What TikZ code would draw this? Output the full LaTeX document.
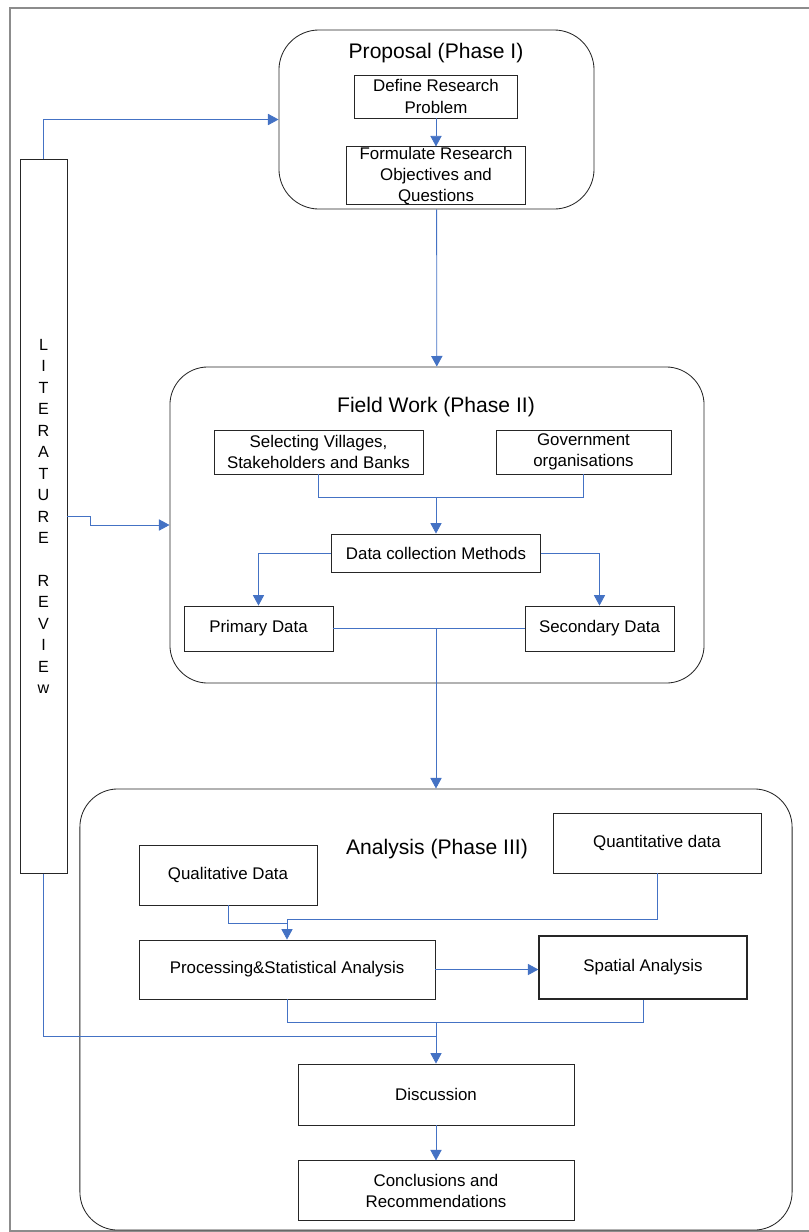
\documentclass[tikz,border=0pt]{standalone}
\usepackage{fontspec}
\setmainfont{Liberation Sans}
\usepackage{xcolor}
\usepackage{tikz}
\usetikzlibrary{arrows.meta, positioning}
\definecolor{linkblue}{HTML}{4472C4}

\begin{document}
\begin{tikzpicture}[x=0.025cm, y=-0.025cm, box/.style={rectangle, draw=black!85, line width=0.6pt, inner sep=0pt, align=center, font=\fontsize{12}{15}\selectfont}, phase/.style={rectangle, draw=black!85, line width=0.6pt, rounded corners=0.95cm, inner sep=0pt}, title/.style={font=\fontsize{15}{17}\selectfont}, link/.style={draw=linkblue, line width=0.6pt}, arrow/.style={link, -{Triangle[length=7.5pt, width=8pt]}}]
\useasboundingbox (0,0) rectangle (809,1232);
\draw[black!45, line width=1pt] (10,1232) -- (10,8) -- (809,8); \draw[black!45, line width=1pt] (10,1231) -- (809,1231);
% phases
\node[phase, minimum width=7.875cm, minimum height=4.475cm, rounded corners=1cm] (ph1) at (436.5,119.5) {};
\node[phase, minimum width=13.35cm, minimum height=7.9cm] (ph2) at (437,525) {};
\node[phase, minimum width=17.8cm, minimum height=11.025cm] (ph3) at (436,1009.5) {};
\node[title] (t1) at (436,53) {Proposal (Phase I)};
\node[title] (t2) at (436,407) {Field Work (Phase II)};
\node[title] (t3) at (437,849) {Analysis (Phase III)};
% literature review
\node[box, minimum width=1.175cm, minimum height=17.825cm, font=\fontsize{11.5}{15.3}\selectfont] (lit) at (43.5,516.5) {L\\I\\T\\E\\R\\A\\T\\U\\R\\E\\[15pt]R\\E\\V\\I\\E\\w};
% phase I
\node[box, minimum width=4.075cm, minimum height=1.075cm] (def) at (436,96.5) {Define Research\\Problem};
\node[box, minimum width=4.475cm, minimum height=1.375cm, below=0.7cm of def] (form) {Formulate Research\\Objectives and\\Questions};
% phase II
\node[box, minimum width=5.225cm, minimum height=1.1cm] (sel) at (318.5,452) {Selecting Villages,\\Stakeholders and Banks};
\node[box, minimum width=4.375cm, minimum height=1.1cm] (gov) at (583.5,452) {Government\\organisations};
\node[box, minimum width=5.225cm, minimum height=0.95cm] (dcm) at (436,553) {Data collection Methods};
\node[box, minimum width=3.725cm, minimum height=1.125cm] (prim) at (258.5,628.5) {Primary Data};
\node[box, minimum width=3.725cm, minimum height=1.125cm] (sec) at (599.5,628.5) {Secondary Data};
% phase III
\node[box, minimum width=4.45cm, minimum height=1.5cm] (qual) at (228,875) {Qualitative Data};
\node[box, minimum width=5.2cm, minimum height=1.5cm] (quant) at (657,843) {Quantitative data};
\node[box, minimum width=7.4cm, minimum height=1.475cm] (proc) at (287,969.5) {Processing\&Statistical Analysis};
\node[box, minimum width=5.2cm, minimum height=1.575cm, line width=0.9pt] (spat) at (643,967.5) {Spatial Analysis};
\node[box, minimum width=6.9cm, minimum height=1.525cm] (disc) at (436,1094.5) {Discussion};
\node[box, minimum width=6.9cm, minimum height=1.5cm, below=0.875cm of disc] (concl) {Conclusions and\\Recommendations};
% connectors
\draw[arrow] (lit.north) |- (ph1.west);
\draw[arrow] (lit.east) -- ++(23,0) |- (ph2.west);
\draw[link] (lit.south) |- ([yshift=19.2pt]disc.north);
\draw[arrow] (def) -- (form); \draw[arrow] (ph1) -- (ph2);
\draw[link] (sel.south) |- ([yshift=25.6pt]dcm.north) -| (gov.south);
\draw[arrow] ([yshift=25.6pt]dcm.north) -- (dcm.north);
\draw[arrow] (dcm.west) -| (prim.north); \draw[arrow] (dcm.east) -| (sec.north);
\draw[link] (prim.east) -- (sec.west);
\draw[arrow] (prim.east -| ph3.north) -- (ph3.north);
\draw[link] (qual.south) |- ([yshift=11.4pt]proc.north);
\draw[arrow] (quant.south) |- ([yshift=14.2pt]proc.north) -- (proc.north);
\draw[arrow] (proc.east) -- (proc.east -| spat.west);
\draw[link] (proc.south) |- ([yshift=29.2pt]disc.north) -| (spat.south);
\draw[arrow] ([yshift=29.2pt]disc.north) -- (disc.north);
\draw[arrow] (disc) -- (concl);
\end{tikzpicture}
\end{document}
